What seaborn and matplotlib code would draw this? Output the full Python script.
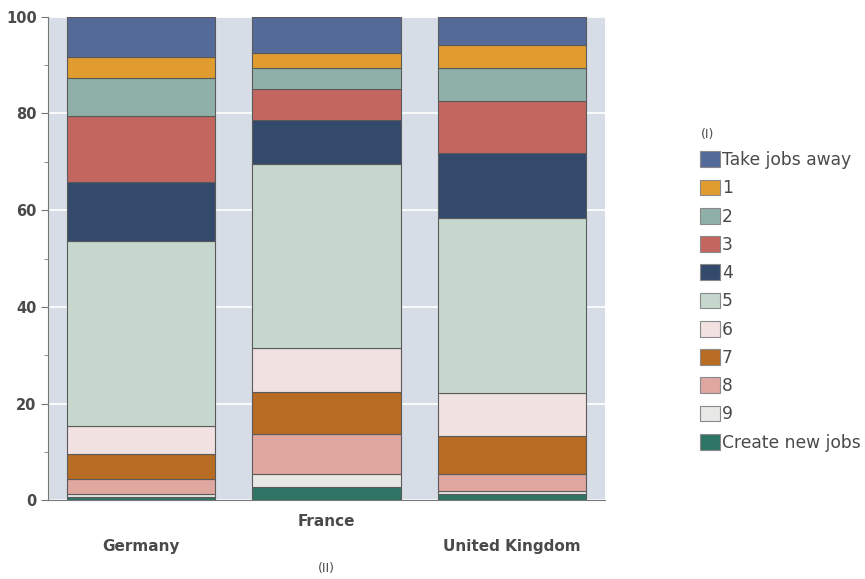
import numpy as np
import matplotlib.pyplot as plt
import seaborn as sns
from matplotlib.patches import Patch
from matplotlib.ticker import MultipleLocator

# data (percent of respondents)
countries = ['Germany', 'France', 'United Kingdom']
categories = ['Take jobs away', '1', '2', '3', '4', '5', '6', '7', '8', '9', 'Create new jobs']
germany = [8.3, 4.4, 7.9, 13.6, 12.2, 38.3, 5.8, 5.2, 3.1, 0.5, 0.7]
france = [7.5, 3.0, 4.5, 6.3, 9.1, 38.2, 9.1, 8.5, 8.4, 2.6, 2.8]
uk = [5.8, 4.7, 7.0, 10.7, 13.5, 36.2, 8.8, 7.9, 3.5, 0.7, 1.2]

colors = ["#546a99", "#e09c2e", "#8fb0a8", "#c46660", "#344a6d", "#c6d8cd",
          "#f1e1e1", "#b86b22", "#dfa7a0", "#e8e8e6", "#2e7565"]

sns.set_style("white")
plt.rcParams['font.family'] = ['DejaVu Sans']
txt = '#4a4a4a'

fig = plt.figure(figsize=(8.65, 5.79), dpi=100)
ax = fig.add_axes([0.056, 0.136, 0.643, 0.835])
ax.set_facecolor('#d6dde6')

vals = np.array([germany, france, uk])  # rows: countries
# stack from the bottom ("Create new jobs") upwards
bottom = np.zeros(len(countries))
for j in range(len(categories) - 1, -1, -1):
    sns.barplot(x=countries, y=vals[:, j], bottom=bottom, color=colors[j],
                width=0.8, edgecolor='#5a5a5a', linewidth=0.8, ax=ax,
                saturation=1, zorder=3)
    bottom = bottom + vals[:, j]

ax.set_xlim(-0.5, 2.5)
ax.set_ylim(0, 100)
ax.yaxis.set_major_locator(MultipleLocator(20))
ax.yaxis.set_minor_locator(MultipleLocator(10))
ax.grid(axis='y', which='major', color='white', lw=1.2, zorder=0)
ax.set_axisbelow(True)
for s in ['top', 'right']:
    ax.spines[s].set_visible(False)
ax.spines['left'].set_color('#777777')
ax.spines['bottom'].set_color('#777777')
ax.tick_params(axis='y', which='major', length=5, color='#777777', labelsize=10.5,
               labelcolor=txt, left=True, direction='out')
ax.tick_params(axis='y', which='minor', length=3, color='#777777', left=True)
ax.tick_params(axis='x', length=0, labelsize=11, labelcolor=txt)
ax.set_xticks(range(len(countries)))
ax.set_xticklabels(countries, fontweight='bold')
pads = [28, 10, 28]
for t, p in zip(ax.xaxis.get_major_ticks(), pads):
    t.set_pad(p)
for lab in ax.get_yticklabels():
    lab.set_fontweight('bold')
ax.set_ylabel('')
ax.set_xlabel('(II)', color=txt, fontsize=9, labelpad=6)

handles = [Patch(facecolor=c, edgecolor='#8a8a8a', lw=0.8) for c in colors]
leg = fig.legend(handles, categories, title='(I)', loc='upper left',
                 bbox_to_anchor=(0.796, 0.80), frameon=False, fontsize=12.3,
                 title_fontsize=9, handlelength=1.15, handleheight=1.05,
                 handletextpad=0.1, labelspacing=0.6, alignment='left',
                 borderaxespad=0.3)
for t in leg.get_texts():
    t.set_color(txt)
leg.get_title().set_color(txt)

fig.savefig('out.png', dpi=100)
